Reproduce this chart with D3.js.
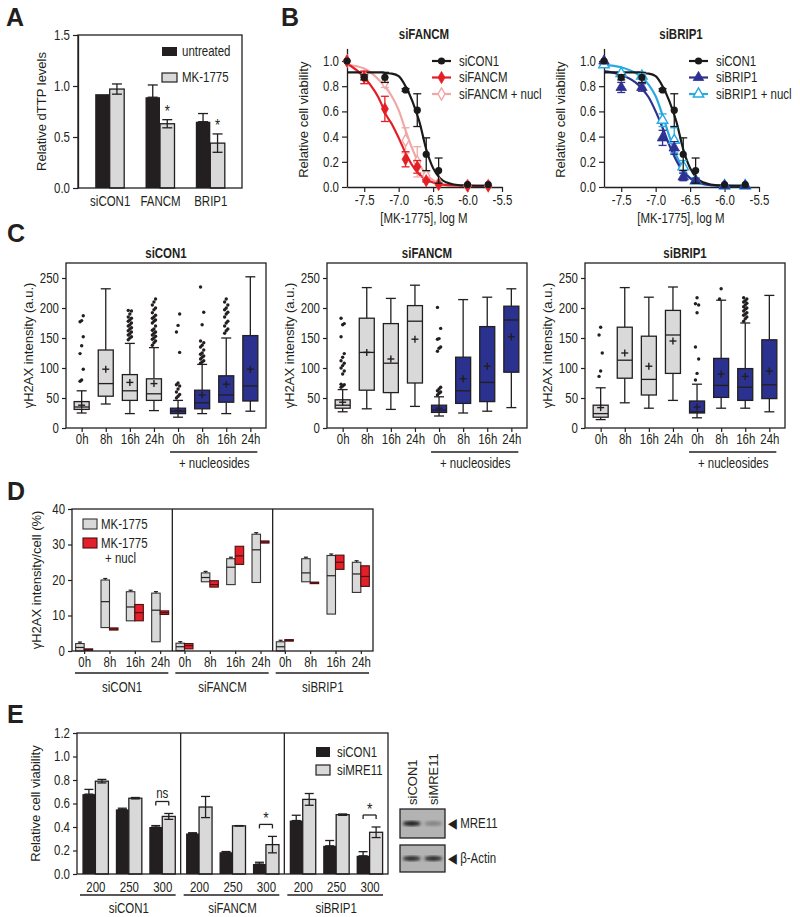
<!DOCTYPE html>
<html><head><meta charset="utf-8">
<script src="https://cdn.jsdelivr.net/npm/d3@7"></script>
<style>body{margin:0;background:#fff}</style>
</head><body><svg id="fig" width="800" height="917" xmlns="http://www.w3.org/2000/svg"></svg>
<script>
// ================= DATA =================
// Panel A
const aCategories = ["siCON1", "FANCM", "BRIP1"];
const aUntreated = [0.92, 0.89, 0.65];
const aUntreatedErr = [0, 0.12, 0.08];
const aMK = [0.97, 0.63, 0.44];
const aMKErr = [0.05, 0.04, 0.09];
const aSignificant = [false, true, true];
const aTicks = [0, 0.5, 1.0, 1.5];

// Panel B
const bDoseLog = [-7.75, -7.5, -7.2, -6.9, -6.73, -6.6, -6.42, -6.0, -5.7];
const bCON1 = [1.0, 0.87, 0.87, 0.77, 0.61, 0.26, 0.13, 0.02, 0.02];
const bCON1Err = [0, 0.02, 0.04, 0.01, 0.13, 0.13, 0.1, 0, 0];
const bFANCM = [1.0, 0.87, 0.62, 0.22, 0.16, 0.05, 0.02, 0.01, 0.01];
const bFANCMErr = [0, 0.05, 0.1, 0.06, 0.05, 0.01, 0, 0, 0];
const bFANCMNucl = [1.0, 0.88, 0.83, 0.37, 0.2, 0.09, 0.03, 0.01, 0.01];
const bFANCMNuclErr = [0, 0, 0.04, 0.1, 0.12, 0.03, 0, 0, 0];
const bBRIP1 = [1.0, 0.79, 0.79, 0.39, 0.31, 0.08, 0.05, 0.01, 0.01];
const bBRIP1Err = [0, 0.04, 0.03, 0.06, 0.05, 0.03, 0.02, 0, 0];
const bBRIP1Nucl = [0.97, 0.9, 0.88, 0.53, 0.37, 0.16, 0.05, 0.01, 0.01];
const bBRIP1NuclErr = [0, 0, 0.02, 0.05, 0.1, 0.05, 0.02, 0, 0];
// fitted curves
const bCurveX = [-7.75, -7.5, -7.25, -7.2, -7.1, -7.0, -6.9, -6.8, -6.7, -6.6, -6.5, -6.4, -6.3, -6.2, -6.0, -5.7];
const bCurveCON1 = [0.91, 0.91, 0.91, 0.905, 0.9, 0.88, 0.8, 0.68, 0.52, 0.3, 0.15, 0.07, 0.035, 0.02, 0.012, 0.01];
const bCurveFANCM = [0.98, 0.87, 0.66, 0.59, 0.5, 0.39, 0.27, 0.17, 0.1, 0.06, 0.035, 0.02, 0.015, 0.012, 0.01, 0.01];
const bCurveFANCMNucl = [0.97, 0.94, 0.83, 0.8, 0.72, 0.61, 0.45, 0.3, 0.18, 0.1, 0.055, 0.03, 0.018, 0.013, 0.01, 0.01];
const bCurveBRIP1 = [0.92, 0.89, 0.81, 0.78, 0.71, 0.6, 0.47, 0.33, 0.21, 0.12, 0.07, 0.04, 0.025, 0.015, 0.01, 0.01];
const bCurveBRIP1Nucl = [0.97, 0.95, 0.89, 0.87, 0.81, 0.72, 0.57, 0.4, 0.25, 0.14, 0.07, 0.035, 0.02, 0.015, 0.01, 0.01];
const bXTicks = [-7.5, -7.0, -6.5, -6.0, -5.5];
const bYTicks = [0, 0.2, 0.4, 0.6, 0.8, 1.0];

// Panel C  — [low whisker, Q1, median, Q3, high whisker, mean]
const cTimeLabels = ["0h", "8h", "16h", "24h", "0h", "8h", "16h", "24h"];
const cTicks = [0, 50, 100, 150, 200, 250];
const cCON1Stats = [
  [25, 31, 35, 44, 62, 38], [40, 53, 74, 130, 232, 98], [24, 46, 62, 89, 141, 76], [29, 46, 57, 82, 134, 74],
  [18, 24, 28, 33, 46, 29], [24, 32, 42, 63, 106, 55], [24, 43, 55, 87, 150, 73], [28, 45, 70, 154, 252, 98]
];
const cCON1Out = [
  [78, 80, 98, 124, 137, 152, 177, 179, 187],
  [],
  [147, 150, 152, 155, 157, 160, 162, 165, 167, 170, 172, 175, 178, 180, 183, 185, 190, 195, 196],
  [138, 142, 145, 148, 150, 153, 155, 158, 160, 163, 165, 170, 175, 178, 180, 183, 185, 188, 192, 197, 200, 205, 210, 215],
  [50, 53, 56, 60, 65, 70, 72, 75, 126, 160, 171, 190],
  [108, 110, 112, 115, 118, 120, 123, 125, 130, 135, 138, 142, 145, 172, 193, 235],
  [158, 162, 165, 170, 175, 178, 185, 190, 193, 197, 200, 205, 210, 215],
  []
];
const cFANCMStats = [
  [27, 33, 38, 47, 64, 43], [32, 63, 126, 183, 234, 126], [31, 59, 108, 174, 216, 115], [36, 75, 178, 204, 238, 148],
  [20, 26, 30, 38, 52, 33], [25, 41, 62, 118, 214, 82], [28, 44, 76, 169, 218, 103], [34, 93, 180, 203, 232, 152]
];
const cFANCMOut = [
  [68, 70, 72, 73, 90, 95, 100, 104, 108, 112, 118, 124, 152, 172, 174, 183],
  [], [], [],
  [55, 58, 60, 62, 65, 68, 128, 133, 135, 148, 149, 166, 201],
  [], [], []
];
const cBRIP1Stats = [
  [14, 18, 24, 38, 67, 34], [42, 83, 113, 168, 234, 125], [33, 55, 81, 153, 218, 103], [46, 91, 155, 196, 235, 145],
  [17, 25, 27, 45, 73, 35], [33, 51, 71, 116, 213, 90], [33, 46, 68, 99, 175, 86], [27, 49, 72, 147, 221, 95]
];
const cBRIP1Out = [
  [86, 95, 125, 155, 168],
  [], [], [],
  [80, 91, 115, 135, 192, 205, 207, 217],
  [215, 232],
  [178, 182, 185, 188, 190, 192, 195, 198, 200, 202, 205, 208, 210, 212, 215, 217],
  []
];

// Panel D — [min, median, max], order: section x time
const dSections = ["siCON1", "siFANCM", "siBRIP1"];
const dTimes = ["0h", "8h", "16h", "24h"];
const dTicks = [0, 10, 20, 30, 40];
const dMK = [
  [0, 1.0, 2.1], [6.6, 13.9, 20], [8.5, 12.4, 16.7], [2.6, 11.5, 16.3],
  [0.1, 1.2, 2.2], [19.5, 20.7, 22], [18.7, 23.6, 26], [19.3, 28.5, 32.9],
  [0, 1.2, 2.6], [19.5, 22, 26], [10.4, 21.2, 26.9], [16.5, 21.7, 25]
];
const dNucl = [
  [0.2, 0.4, 0.6], [5.9, 6.2, 6.5], [8.5, 10.8, 13.1], [10.3, 10.8, 11.3],
  [0.6, 1.5, 2.1], [18, 18.7, 19.8], [24.4, 26.8, 29.5], [30.4, 30.7, 31],
  [2.8, 3.0, 3.2], [19, 19.2, 19.4], [23, 25, 27], [18.2, 21, 24]
];

// Panel E
const eSections = ["siCON1", "siFANCM", "siBRIP1"];
const eDoses = ["200", "250", "300"];
const eTicks = [0, 0.2, 0.4, 0.6, 0.8, 1.0, 1.2];
const eCON1 = [0.68, 0.55, 0.40, 0.345, 0.185, 0.085, 0.455, 0.24, 0.155];
const eCON1Err = [0.04, 0.01, 0.012, 0.006, 0.006, 0.015, 0.045, 0.045, 0.035];
const eMRE11 = [0.79, 0.645, 0.49, 0.57, 0.41, 0.25, 0.635, 0.505, 0.355];
const eMRE11Err = [0.015, 0.006, 0.025, 0.09, 0.002, 0.07, 0.05, 0.006, 0.045];
const eSigLabels = ["", "", "ns", "", "", "*", "", "", "*"];
const blotLanes = ["siCON1", "siMRE11"];
const blotMRE11 = [1.0, 0.3];
const blotActin = [0.9, 0.9];

// ================= DRAWING =================
const FONT = "'Liberation Sans',Arial,sans-serif";
const SX = 0.82; // horizontal squeeze of the reference's lettering
const ink = "#231f20";
const grayFill = "#d9d9d9";
const blue = "#2a318f";
const svg = d3.select("#fig").attr("font-family", FONT);

function txt(g, s, x, y, o = {}) {
  const t = g.append("text").attr("x", x).attr("y", y).text(s)
    .attr("font-size", o.size || 14).attr("fill", o.fill || ink)
    .attr("text-anchor", o.anchor || "start");
  if (o.bold) t.attr("font-weight", "bold");
  if (o.rotate) t.attr("transform", `rotate(-90,${x},${y})`).classed("keep", true);
  if (o.keep) t.classed("keep", true);
  return t;
}
function axisStyle(a, fs) {
  a.attr("font-family", FONT).attr("font-size", fs);
  a.select(".domain").attr("stroke", ink).attr("stroke-width", 1.3);
  a.selectAll(".tick line").attr("stroke", ink).attr("stroke-width", 1.2);
  a.selectAll(".tick text").attr("fill", ink);
}
function line(g, x1, y1, x2, y2, c = ink, w = 1.2) {
  return g.append("line").attr("x1", x1).attr("y1", y1).attr("x2", x2).attr("y2", y2)
    .attr("stroke", c).attr("stroke-width", w);
}
function errBar(g, x, yHi, yLo, cap, c = ink, w = 1.3) {
  line(g, x, yHi, x, yLo, c, w);
  line(g, x - cap, yHi, x + cap, yHi, c, w);
  line(g, x - cap, yLo, x + cap, yLo, c, w);
}
function letter(s, x, y) { txt(svg, s, x, y, { size: 25, bold: true, keep: true }); }

letter("A", 6, 26); letter("B", 281, 26); letter("C", 7, 242); letter("D", 7, 500); letter("E", 7, 723);

// ---------- Panel A ----------
(function () {
  const g = svg.append("g");
  const y = d3.scaleLinear().domain([0, 1.5]).range([188, 35]);
  const x = d3.scalePoint().domain(aCategories).range([78, 242]).padding(0.63);
  const bw = 14.5;
  const [x0, x1] = x.range();
  aCategories.forEach((c, i) => {
    const cx = x(c);
    g.append("rect").attr("x", cx - bw).attr("y", y(aUntreated[i])).attr("width", bw)
      .attr("height", y(0) - y(aUntreated[i])).attr("fill", ink);
    if (aUntreatedErr[i] > 0) errBar(g, cx - bw / 2, y(aUntreated[i] + aUntreatedErr[i]), y(aUntreated[i]), 5);
    g.append("rect").attr("x", cx).attr("y", y(aMK[i])).attr("width", bw)
      .attr("height", y(0) - y(aMK[i])).attr("fill", grayFill).attr("stroke", ink).attr("stroke-width", 1.3);
    errBar(g, cx + bw / 2, y(aMK[i] + aMKErr[i]), y(aMK[i] - aMKErr[i]), 5);
    if (aSignificant[i]) txt(g, "*", cx + bw / 2, y(aMK[i] + aMKErr[i]) - 3, { size: 16, anchor: "middle" });
  });
  g.append("rect").attr("x", x0).attr("y", y(1.5)).attr("width", x1 - x0).attr("height", y(0) - y(1.5))
    .attr("fill", "none").attr("stroke", ink).attr("stroke-width", 1.3);
  g.append("g").attr("transform", `translate(${x0},0)`)
    .call(d3.axisLeft(y).tickValues(aTicks).tickFormat(d => d.toFixed(1)).tickSize(5).tickSizeOuter(0))
    .call(a => axisStyle(a, 14));
  g.append("g").attr("transform", `translate(0,${y(0)})`)
    .call(d3.axisBottom(x).tickSize(0).tickPadding(8)).call(a => axisStyle(a, 14))
    .call(a => a.select(".domain").remove());
  txt(g, "Relative dTTP levels", 46, (y(0) + y(1.5)) / 2, { anchor: "middle", rotate: true, size: 13 });
  // legend
  g.append("rect").attr("x", 162).attr("y", 47).attr("width", 15).attr("height", 9).attr("fill", ink);
  g.append("rect").attr("x", 162).attr("y", 73).attr("width", 15).attr("height", 9).attr("fill", grayFill).attr("stroke", ink).attr("stroke-width", 1.2);
  txt(g, "untreated", 182, 56);
  txt(g, "MK-1775", 182, 82);
})();

// ---------- Panel B ----------
function marker(g, type, cx, cy, color, filled) {
  if (type === "circle") {
    g.append("circle").attr("cx", cx).attr("cy", cy).attr("r", 3.6).attr("fill", color);
  } else {
    const sym = d3.symbol().type(type === "diamond" ? d3.symbolDiamond : d3.symbolTriangle).size(type === "diamond" ? 42 : 48);
    g.append("path").attr("d", sym()).attr("transform", `translate(${cx},${cy})`)
      .attr("fill", filled ? color : "#fff").attr("stroke", color).attr("stroke-width", filled ? 0.8 : 1.4);
  }
}
function drawDose(ax, title, series) {
  const g = svg.append("g");
  const x = d3.scaleLinear().domain([-7.75, -5.5]).range([ax, ax + 155]);
  const y = d3.scaleLinear().domain([0, 1.1]).range([187, 48.4]);
  g.append("g").attr("transform", `translate(${ax},0)`)
    .call(d3.axisLeft(y).tickValues(bYTicks).tickFormat(d => d.toFixed(1)).tickSize(5).tickSizeOuter(0))
    .call(a => axisStyle(a, 14));
  g.append("g").attr("transform", `translate(0,${y(0)})`)
    .call(d3.axisBottom(x).tickValues(bXTicks).tickFormat(d => d.toFixed(1)).tickSize(5).tickSizeOuter(0))
    .call(a => axisStyle(a, 14));
  txt(g, title, ax + 77, 39, { anchor: "middle", bold: true });
  txt(g, "Relative cell viability", ax - 39, (y(0) + y(1.1)) / 2 + 2, { anchor: "middle", rotate: true, size: 13 });
  txt(g, "[MK-1775], log M", ax + 77, 223, { anchor: "middle" });
  const ln = d3.line().x(d => x(d[0])).y(d => y(d[1])).curve(d3.curveMonotoneX);
  series.slice().reverse().forEach(s => {
    g.append("path").datum(bCurveX.map((v, i) => [v, s.curve[i]])).attr("d", ln)
      .attr("fill", "none").attr("stroke", s.color).attr("stroke-width", 2.2);
  });
  series.slice().reverse().forEach(s => {
    s.values.forEach((v, i) => {
      if (s.err[i] > 0) errBar(g, x(bDoseLog[i]), y(v + s.err[i]), y(Math.max(0, v - s.err[i])), 4, s.color, 1.3);
    });
    s.values.forEach((v, i) => marker(g, s.symbol, x(bDoseLog[i]), y(v), s.color, s.filled));
  });
  // legend
  const lx = ax + 85;
  series.forEach((s, i) => {
    const ly = 61 + i * 16.5;
    line(g, lx, ly, lx + 19, ly, s.color, 2.2);
    marker(g, s.symbol, lx + 9.5, ly, s.color, s.filled);
    txt(g, s.name, lx + 27, ly + 5);
  });
}
drawDose(347, "siFANCM", [
  { name: "siCON1", values: bCON1, err: bCON1Err, curve: bCurveCON1, color: "#1a1a1a", symbol: "circle", filled: true },
  { name: "siFANCM", values: bFANCM, err: bFANCMErr, curve: bCurveFANCM, color: "#e31e24", symbol: "diamond", filled: true },
  { name: "siFANCM + nucl", values: bFANCMNucl, err: bFANCMNuclErr, curve: bCurveFANCMNucl, color: "#f3a6a6", symbol: "diamond", filled: false }
]);
drawDose(604, "siBRIP1", [
  { name: "siCON1", values: bCON1, err: bCON1Err, curve: bCurveCON1, color: "#1a1a1a", symbol: "circle", filled: true },
  { name: "siBRIP1", values: bBRIP1, err: bBRIP1Err, curve: bCurveBRIP1, color: "#2e3192", symbol: "triangle", filled: true },
  { name: "siBRIP1 + nucl", values: bBRIP1Nucl, err: bBRIP1NuclErr, curve: bCurveBRIP1Nucl, color: "#27aae1", symbol: "triangle", filled: false }
]);

// ---------- Panel C ----------
function drawBoxPanel(x0, title, stats, outliers) {
  const g = svg.append("g");
  const y = d3.scaleLinear().domain([0, 275]).range([428, 263]);
  const x = d3.scalePoint().domain(d3.range(8)).range([x0, x0 + 200]).padding(0.65);
  const bw = 15, cap = 5;
  stats.forEach((s, i) => {
    const [lo, q1, med, q3, hi, mean] = s;
    const cx = x(i);
    const fill = i < 4 ? grayFill : blue;
    line(g, cx, y(hi), cx, y(q3), ink, 1.3);
    line(g, cx, y(q1), cx, y(lo), ink, 1.3);
    line(g, cx - cap, y(hi), cx + cap, y(hi), ink, 1.3);
    line(g, cx - cap, y(lo), cx + cap, y(lo), ink, 1.3);
    g.append("rect").attr("x", cx - bw / 2).attr("y", y(q3)).attr("width", bw).attr("height", y(q1) - y(q3))
      .attr("fill", fill).attr("stroke", ink).attr("stroke-width", 1.3);
    line(g, cx - bw / 2, y(med), cx + bw / 2, y(med), ink, 1.3);
    line(g, cx - 3.5, y(mean), cx + 3.5, y(mean), ink, 1.4);
    line(g, cx, y(mean) - 3.5, cx, y(mean) + 3.5, ink, 1.4);
    outliers[i].forEach((v, k) => {
      g.append("circle").attr("cx", cx + (k % 3 - 1) * 1.6).attr("cy", y(v)).attr("r", 1.7).attr("fill", ink);
    });
  });
  g.append("rect").attr("x", x0).attr("y", y(275)).attr("width", 200).attr("height", y(0) - y(275))
    .attr("fill", "none").attr("stroke", ink).attr("stroke-width", 1.3);
  g.append("g").attr("transform", `translate(${x0},0)`)
    .call(d3.axisLeft(y).tickValues(cTicks).tickSize(4).tickSizeOuter(0)).call(a => axisStyle(a, 14))
    .call(a => a.select(".domain").remove());
  g.append("g").attr("transform", `translate(0,${y(0)})`)
    .call(d3.axisBottom(x).tickFormat(i => cTimeLabels[i]).tickSize(4).tickPadding(2)).call(a => axisStyle(a, 14))
    .call(a => a.select(".domain").remove());
  txt(g, title, x0 + 100, 258, { anchor: "middle", bold: true });
  txt(g, "γH2AX intensity (a.u.)", x0 - 33, (y(0) + y(275)) / 2, { anchor: "middle", rotate: true, size: 13 });
  line(g, x(4) - 8, 452, x(7) + 7, 452, ink, 1.5);
  txt(g, "+ nucleosides", (x(4) + x(7)) / 2, 468, { anchor: "middle" });
}
drawBoxPanel(66, "siCON1", cCON1Stats, cCON1Out);
drawBoxPanel(327, "siFANCM", cFANCMStats, cFANCMOut);
drawBoxPanel(585, "siBRIP1", cBRIP1Stats, cBRIP1Out);

// ---------- Panel D ----------
(function () {
  const g = svg.append("g");
  const y = d3.scaleLinear().domain([0, 40]).range([651, 509]);
  const xs = d3.scaleBand().domain(dSections).range([72, 373]);
  const bw = 8.5;
  dSections.forEach((sec, si) => {
    const x = d3.scalePoint().domain(dTimes).range([xs(sec), xs(sec) + xs.bandwidth()]).padding(0.48);
    dTimes.forEach((t, ti) => {
      const k = si * dTimes.length + ti;
      const cx = x(t);
      const [a0, am, a1] = dMK[k];
      line(g, cx - bw / 2, y(a1) - 1.5, cx - bw / 2, y(a1), ink, 1.2);
      line(g, cx - bw / 2 - 2, y(a1) - 1.5, cx - bw / 2 + 2, y(a1) - 1.5, ink, 1.2);
      g.append("rect").attr("x", cx - bw).attr("y", y(a1)).attr("width", bw).attr("height", Math.max(1.5, y(a0) - y(a1)))
        .attr("fill", grayFill).attr("stroke", "#333").attr("stroke-width", 1.1);
      line(g, cx - bw, y(am), cx, y(am), ink, 1.2);
      const [b0, bm, b1] = dNucl[k];
      g.append("rect").attr("x", cx).attr("y", y(b1)).attr("width", bw).attr("height", Math.max(1.5, y(b0) - y(b1)))
        .attr("fill", "#e3202a").attr("stroke", "#4a1010").attr("stroke-width", 1.1);
      line(g, cx, y(bm), cx + bw, y(bm), "#4a1010", 1.2);
    });
    g.append("g").attr("transform", `translate(0,${y(0)})`)
      .call(d3.axisBottom(x).tickSize(3).tickPadding(3)).call(a => axisStyle(a, 14))
      .call(a => a.select(".domain").remove());
    line(g, xs(sec) + 3, 673, xs(sec) + xs.bandwidth() - 4, 673, ink, 1.5);
    txt(g, sec, xs(sec) + xs.bandwidth() / 2, 692, { anchor: "middle" });
    if (si > 0) line(g, xs(sec), y(40), xs(sec), y(0), ink, 1.3);
  });
  g.append("rect").attr("x", 72).attr("y", y(40)).attr("width", 301).attr("height", y(0) - y(40))
    .attr("fill", "none").attr("stroke", ink).attr("stroke-width", 1.3);
  g.append("g").attr("transform", `translate(72,0)`)
    .call(d3.axisLeft(y).tickValues(dTicks).tickSize(4).tickSizeOuter(0)).call(a => axisStyle(a, 14))
    .call(a => a.select(".domain").remove());
  txt(g, "γH2AX intensity/cell (%)", 41, (y(0) + y(40)) / 2, { anchor: "middle", rotate: true, size: 13 });
  // legend
  g.append("rect").attr("x", 83).attr("y", 519).attr("width", 14).attr("height", 10).attr("fill", grayFill).attr("stroke", "#333").attr("stroke-width", 1.1);
  g.append("rect").attr("x", 83).attr("y", 538).attr("width", 14).attr("height", 10).attr("fill", "#e3202a").attr("stroke", "#4a1010").attr("stroke-width", 1.1);
  txt(g, "MK-1775", 101, 529);
  txt(g, "MK-1775", 101, 548);
  txt(g, "+ nucl", 105, 563);
})();

// ---------- Panel E ----------
(function () {
  const g = svg.append("g");
  const y = d3.scaleLinear().domain([0, 1.2]).range([874, 733]);
  const xs = d3.scaleBand().domain(eSections).range([77, 388]);
  const bw = 13;
  eSections.forEach((sec, si) => {
    const x = d3.scalePoint().domain(eDoses).range([xs(sec), xs(sec) + xs.bandwidth()]).padding(0.55);
    eDoses.forEach((d, di) => {
      const k = si * eDoses.length + di;
      const cx = x(d);
      g.append("rect").attr("x", cx - bw).attr("y", y(eCON1[k])).attr("width", bw).attr("height", y(0) - y(eCON1[k])).attr("fill", ink);
      errBar(g, cx - bw / 2, y(eCON1[k] + eCON1Err[k]), y(eCON1[k]), 4.5);
      g.append("rect").attr("x", cx).attr("y", y(eMRE11[k])).attr("width", bw).attr("height", y(0) - y(eMRE11[k]))
        .attr("fill", grayFill).attr("stroke", ink).attr("stroke-width", 1.3);
      errBar(g, cx + bw / 2, y(eMRE11[k] + eMRE11Err[k]), y(eMRE11[k] - eMRE11Err[k]), 4.5);
      if (eSigLabels[k]) {
        const by = y(eMRE11[k] + eMRE11Err[k]) - 12;
        line(g, cx - bw / 2, by, cx + bw / 2, by, ink, 1.3);
        line(g, cx - bw / 2, by, cx - bw / 2, by + 4, ink, 1.3);
        line(g, cx + bw / 2, by, cx + bw / 2, by + 4, ink, 1.3);
        txt(g, eSigLabels[k], cx, eSigLabels[k] === "*" ? by - 0 : by - 3, { anchor: "middle", size: eSigLabels[k] === "*" ? 17 : 14 });
      }
    });
    g.append("g").attr("transform", `translate(0,${y(0)})`)
      .call(d3.axisBottom(x).tickSize(0).tickPadding(8)).call(a => axisStyle(a, 14))
      .call(a => a.select(".domain").remove());
    line(g, xs(sec) + 3, 895, xs(sec) + xs.bandwidth() - 5, 895, ink, 1.5);
    txt(g, sec, xs(sec) + xs.bandwidth() / 2, 913, { anchor: "middle" });
    if (si > 0) line(g, xs(sec), y(1.2), xs(sec), y(0), ink, 1.3);
  });
  g.append("rect").attr("x", 77).attr("y", y(1.2)).attr("width", 311).attr("height", y(0) - y(1.2))
    .attr("fill", "none").attr("stroke", ink).attr("stroke-width", 1.3);
  g.append("g").attr("transform", `translate(77,0)`)
    .call(d3.axisLeft(y).tickValues(eTicks).tickFormat(d => d.toFixed(1)).tickSize(4).tickSizeOuter(0)).call(a => axisStyle(a, 14))
    .call(a => a.select(".domain").remove());
  txt(g, "Relative cell viability", 40, (y(0) + y(1.2)) / 2, { anchor: "middle", rotate: true, size: 13 });
  // legend
  g.append("rect").attr("x", 316).attr("y", 747).attr("width", 14).attr("height", 10).attr("fill", ink);
  g.append("rect").attr("x", 316).attr("y", 765).attr("width", 14).attr("height", 10).attr("fill", grayFill).attr("stroke", ink).attr("stroke-width", 1.2);
  txt(g, "siCON1", 337, 757);
  txt(g, "siMRE11", 337, 775);

  // western blot
  const defs = svg.append("defs");
  defs.append("filter").attr("id", "blur").append("feGaussianBlur").attr("stdDeviation", 1.6);
  const bx = d3.scaleBand().domain(blotLanes).range([400, 445]).padding(0.08);
  const rows = [{ name: "MRE11", top: 809, h: 29, vals: blotMRE11 }, { name: "β-Actin", top: 845, h: 27, vals: blotActin }];
  rows.forEach(r => {
    g.append("rect").attr("x", 400).attr("y", r.top).attr("width", 45).attr("height", r.h)
      .attr("fill", "#b3b3b3").attr("stroke", "#222").attr("stroke-width", 1.3);
    blotLanes.forEach((l, i) => {
      g.append("ellipse").attr("cx", bx(l) + bx.bandwidth() / 2).attr("cy", r.top + r.h / 2)
        .attr("rx", bx.bandwidth() / 2 - 1).attr("ry", 2.6).attr("fill", "#1a1a1a")
        .attr("opacity", r.vals[i]).attr("filter", "url(#blur)");
    });
    txt(g, "◀ " + r.name, 448, r.top + r.h / 2 + 5);
  });
  blotLanes.forEach(l => txt(g, l, bx(l) + bx.bandwidth() / 2 + 5, 805, { rotate: true, size: 13 }));
})();

// squeeze horizontal lettering like the reference (rotated labels and panel letters keep their shape)
svg.selectAll("text").filter(function () { return !this.classList.contains("keep"); })
  .attr("transform", function () {
    const x = +this.getAttribute("x") || 0;
    return `matrix(${SX},0,0,1,${x * (1 - SX)},0)`;
  });
</script>
</body></html>
